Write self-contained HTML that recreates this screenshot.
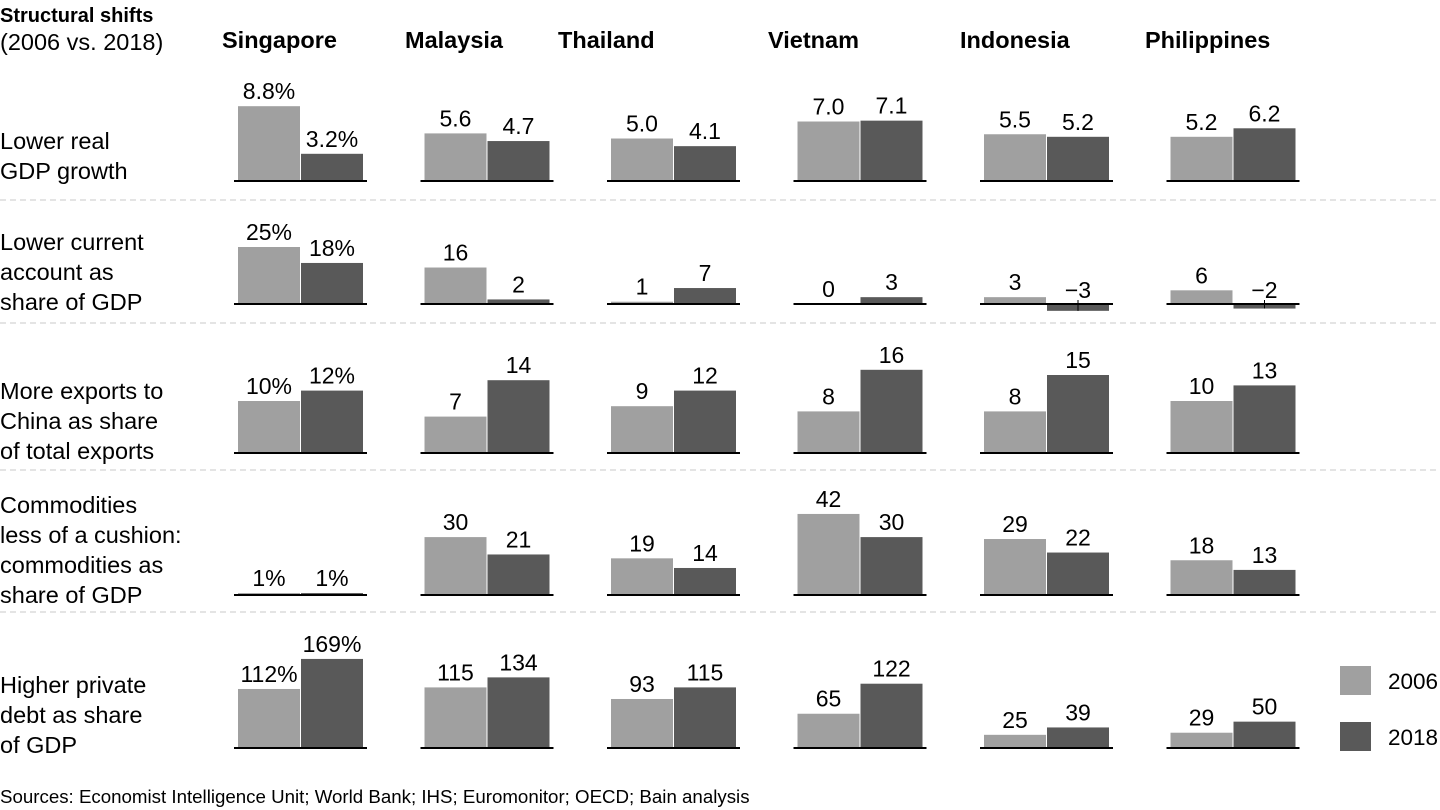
<!DOCTYPE html>
<html><head><meta charset="utf-8"><style>
html,body{margin:0;padding:0;background:#fff;}
svg{display:block;font-family:"Liberation Sans",Arial,sans-serif;}
</style></head><body>
<svg id="chart" width="1440" height="810" viewBox="0 0 1440 810">
<g id="static">
<text x="0" y="22" font-size="20" font-weight="bold" fill="#000">Structural shifts</text>
<text x="0" y="50" font-size="23.5" fill="#000">(2006 vs. 2018)</text>
<text x="0" y="803" font-size="18.7" fill="#000">Sources: Economist Intelligence Unit; World Bank; IHS; Euromonitor; OECD; Bain analysis</text>
<rect x="1340" y="666" width="31" height="29" fill="#a0a0a0"/>
<text x="1388" y="689" font-size="22.5">2006</text>
<rect x="1340" y="722" width="31" height="29" fill="#595959"/>
<text x="1388" y="745" font-size="22.5">2018</text>
</g>
</svg>
<script>
const countries = ["Singapore","Malaysia","Thailand","Vietnam","Indonesia","Philippines"];
const rowLabels = [["Lower real","GDP growth"],["Lower current","account as","share of GDP"],["More exports to","China as share","of total exports"],["Commodities","less of a cushion:","commodities as","share of GDP"],["Higher private","debt as share","of GDP"]];
const values2006 = [[8.8,5.6,5.0,7.0,5.5,5.2],[25,16,1,0,3,6],[10,7,9,8,8,10],[1,30,19,42,29,18],[112,115,93,65,25,29]];
const values2018 = [[3.2,4.7,4.1,7.1,5.2,6.2],[18,2,7,3,-3,-2],[12,14,12,16,15,13],[1,21,14,30,22,13],[169,134,115,122,39,50]];
const labels2006 = [["8.8%","5.6","5.0","7.0","5.5","5.2"],["25%","16","1","0","3","6"],["10%","7","9","8","8","10"],["1%","30","19","42","29","18"],["112%","115","93","65","25","29"]];
const labels2018 = [["3.2%","4.7","4.1","7.1","5.2","6.2"],["18%","2","7","3","\u22123","\u22122"],["12%","14","12","16","15","13"],["1%","21","14","30","22","13"],["169%","134","115","122","39","50"]];

const svg = document.getElementById('chart');
const NS = 'http://www.w3.org/2000/svg';
const baselines = [181,304,453,595,748];
const scales = [8.5,2.28,5.2,1.93,0.527];
const rowLabelTop = [[149,179],[250,280,310],[399,429,459],[513,543,573,603],[693,723,753]];
const sepY = [200,323,470,612];
const countryX = [222,405,558,768,960,1145];
function colX(c){return 238 + c*186.5;}
function yScale(r,v){return baselines[r] - v*scales[r];}
function mk(tag,attrs){const e=document.createElementNS(NS,tag);for(const k in attrs)e.setAttribute(k,attrs[k]);svg.appendChild(e);return e;}

countries.forEach((c,i)=>{
  const t = mk('text',{x:countryX[i],y:48,'font-size':23.5,'font-weight':'bold'});
  
  
  t.textContent=c;
});
sepY.forEach(y=>{
  const l = mk('line',{x1:0,x2:1440,y1:y,y2:y,stroke:'#c8c8c8','stroke-width':1,'stroke-dasharray':'6,4'});
  
  
});
rowLabels.forEach((lines,r)=>{
  lines.forEach((s,k)=>{
    const t = mk('text',{x:0,y:rowLabelTop[r][k],'font-size':23.5});
    
    
    t.textContent=s;
  });
});
function bar(r,c,v,lab,off,color,name){
  const x = colX(c)+off, w=62, b=baselines[r], y=yScale(r,v);
  const top=Math.min(y,b), h=Math.abs(b-y);
  const rc = mk('rect',{x:x,y:top,width:w,height:Math.max(h,0.5),fill:color});
  
  
  let ty;
  if(v<0){
    ty=b-6;
    const tk = mk('line',{x1:x+w/2,x2:x+w/2,y1:b-4,y2:y,stroke:'#000','stroke-width':1});
    
    
  } else ty = top-7;
  const t = mk('text',{x:x+w/2,y:ty,'font-size':23,'text-anchor':'middle'});
  
  
  t.textContent=lab;
}
for(let r=0;r<5;r++){
  for(let c=0;c<6;c++){
    bar(r,c,values2006[r][c],labels2006[r][c],0,'#a0a0a0','bar-2006');
    bar(r,c,values2018[r][c],labels2018[r][c],63,'#595959','bar-2018');
    const bl = mk('line',{x1:colX(c)-4,x2:colX(c)+129,y1:baselines[r],y2:baselines[r],stroke:'#000','stroke-width':2});
    
    
  }
}
</script>
</body></html>
